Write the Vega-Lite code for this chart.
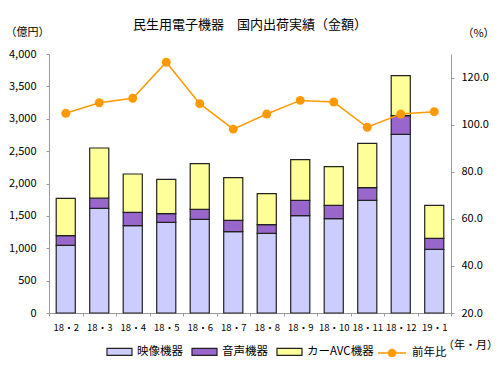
{
  "$schema": "https://vega.github.io/schema/vega-lite/v6.json",
  "autosize": {"type": "none"},
  "width": 402,
  "height": 259,
  "padding": {"left": 49, "top": 54, "right": 52, "bottom": 58},
  "background": "white",
  "title": {
    "text": "民生用電子機器　国内出荷実績（金額）",
    "font": "Noto Sans CJK JP",
    "fontSize": 13,
    "fontWeight": "normal",
    "color": "#000",
    "anchor": "middle",
    "frame": "group",
    "offset": -6
  },
  "config": {
    "font": "Noto Sans CJK JP",
    "view": {"stroke": null},
    "axis": {"grid": false, "domainColor": "#999", "tickColor": "#999", "labelColor": "#000", "titleColor": "#000", "labelFont": "Noto Sans CJK JP", "titleFont": "Noto Sans CJK JP", "titleFontWeight": "normal"}
  },
  "datasets": {
    "bars": [
      {"month": "18・2", "series": "映像機器", "k": 1, "value": 1045},
      {"month": "18・2", "series": "音声機器", "k": 2, "value": 150},
      {"month": "18・2", "series": "カーAVC機器", "k": 3, "value": 575},
      {"month": "18・3", "series": "映像機器", "k": 1, "value": 1617},
      {"month": "18・3", "series": "音声機器", "k": 2, "value": 159},
      {"month": "18・3", "series": "カーAVC機器", "k": 3, "value": 772},
      {"month": "18・4", "series": "映像機器", "k": 1, "value": 1349},
      {"month": "18・4", "series": "音声機器", "k": 2, "value": 206},
      {"month": "18・4", "series": "カーAVC機器", "k": 3, "value": 592},
      {"month": "18・5", "series": "映像機器", "k": 1, "value": 1400},
      {"month": "18・5", "series": "音声機器", "k": 2, "value": 134},
      {"month": "18・5", "series": "カーAVC機器", "k": 3, "value": 531},
      {"month": "18・6", "series": "映像機器", "k": 1, "value": 1447},
      {"month": "18・6", "series": "音声機器", "k": 2, "value": 154},
      {"month": "18・6", "series": "カーAVC機器", "k": 3, "value": 705},
      {"month": "18・7", "series": "映像機器", "k": 1, "value": 1256},
      {"month": "18・7", "series": "音声機器", "k": 2, "value": 175},
      {"month": "18・7", "series": "カーAVC機器", "k": 3, "value": 659},
      {"month": "18・8", "series": "映像機器", "k": 1, "value": 1230},
      {"month": "18・8", "series": "音声機器", "k": 2, "value": 134},
      {"month": "18・8", "series": "カーAVC機器", "k": 3, "value": 479},
      {"month": "18・9", "series": "映像機器", "k": 1, "value": 1503},
      {"month": "18・9", "series": "音声機器", "k": 2, "value": 237},
      {"month": "18・9", "series": "カーAVC機器", "k": 3, "value": 628},
      {"month": "18・10", "series": "映像機器", "k": 1, "value": 1457},
      {"month": "18・10", "series": "音声機器", "k": 2, "value": 206},
      {"month": "18・10", "series": "カーAVC機器", "k": 3, "value": 597},
      {"month": "18・11", "series": "映像機器", "k": 1, "value": 1740},
      {"month": "18・11", "series": "音声機器", "k": 2, "value": 196},
      {"month": "18・11", "series": "カーAVC機器", "k": 3, "value": 685},
      {"month": "18・12", "series": "映像機器", "k": 1, "value": 2760},
      {"month": "18・12", "series": "音声機器", "k": 2, "value": 287},
      {"month": "18・12", "series": "カーAVC機器", "k": 3, "value": 618},
      {"month": "19・1", "series": "映像機器", "k": 1, "value": 983},
      {"month": "19・1", "series": "音声機器", "k": 2, "value": 170},
      {"month": "19・1", "series": "カーAVC機器", "k": 3, "value": 510}
    ],
    "yoy": [
      {"month": "18・2", "name": "前年比", "ratio": 104.8},
      {"month": "18・3", "name": "前年比", "ratio": 109.3},
      {"month": "18・4", "name": "前年比", "ratio": 111.2},
      {"month": "18・5", "name": "前年比", "ratio": 126.5},
      {"month": "18・6", "name": "前年比", "ratio": 108.9},
      {"month": "18・7", "name": "前年比", "ratio": 98.1},
      {"month": "18・8", "name": "前年比", "ratio": 104.5},
      {"month": "18・9", "name": "前年比", "ratio": 110.3},
      {"month": "18・10", "name": "前年比", "ratio": 109.6},
      {"month": "18・11", "name": "前年比", "ratio": 98.9},
      {"month": "18・12", "name": "前年比", "ratio": 104.5},
      {"month": "19・1", "name": "前年比", "ratio": 105.5}
    ]
  },
  "encoding": {
    "x": {
      "field": "month",
      "type": "nominal",
      "sort": null,
      "scale": {"paddingInner": 0, "paddingOuter": 0},
      "axis": {
        "title": "（年・月）",
        "titleX": 421,
        "titleY": 32,
        "titleAlign": "center",
        "titleBaseline": "middle",
        "titleFontSize": 11,
        "labelAngle": 0,
        "labelFontSize": 9.5,
        "labelPadding": 6,
        "tickBand": "extent",
        "tickSize": 3
      }
    }
  },
  "layer": [
    {
      "data": {"name": "bars"},
      "mark": {"type": "bar", "width": {"band": 0.57}, "stroke": "#222", "strokeWidth": 1.2},
      "encoding": {
        "y": {
          "field": "value",
          "type": "quantitative",
          "stack": "zero",
          "scale": {"domain": [0, 4000]},
          "axis": {
            "orient": "left",
            "values": [0, 500, 1000, 1500, 2000, 2500, 3000, 3500, 4000],
            "format": ",d",
            "title": "（億円）",
            "titleAngle": 0,
            "titleX": -22,
            "titleY": -22,
            "titleAlign": "center",
            "titleBaseline": "middle",
            "titleFontSize": 11,
            "labelFontSize": 11,
            "tickSize": 3,
            "labelPadding": 10
          }
        },
        "color": {
          "field": "series",
          "type": "nominal",
          "scale": {"domain": ["映像機器", "音声機器", "カーAVC機器"], "range": ["#CCCCFF", "#9966CC", "#FFFF99"]},
          "legend": {
            "title": null,
            "orient": "none",
            "direction": "horizontal",
            "legendX": 57,
            "legendY": 284,
            "symbolType": "M-1,-0.28H1V0.28H-1Z",
            "symbolSize": 625,
            "symbolStrokeColor": "#222",
            "symbolStrokeWidth": 1.2,
            "labelFontSize": 11.5,
            "labelColor": "#000",
            "labelOffset": 4,
            "columnPadding": 6
          }
        },
        "order": {"field": "k", "type": "quantitative"}
      }
    },
    {
      "data": {"name": "yoy"},
      "mark": {"type": "line", "strokeWidth": 1.5, "point": {"filled": true, "size": 80}},
      "encoding": {
        "y": {
          "field": "ratio",
          "type": "quantitative",
          "scale": {"domain": [20, 130]},
          "axis": {
            "orient": "right",
            "values": [20, 40, 60, 80, 100, 120],
            "format": ".1f",
            "title": "（%）",
            "titleAngle": 0,
            "titleX": 27,
            "titleY": -21,
            "titleAlign": "center",
            "titleBaseline": "middle",
            "titleFontSize": 11,
            "labelFontSize": 11,
            "tickSize": 3,
            "labelPadding": 7
          }
        },
        "color": {
          "field": "name",
          "type": "nominal",
          "scale": {"domain": ["前年比"], "range": ["#FF9900"]},
          "legend": {
            "title": null,
            "orient": "none",
            "direction": "horizontal",
            "legendX": 328,
            "legendY": 284,
            "symbolType": "M-1,0H1M-0.25,0A0.25,0.25 0 1,0 0.25,0A0.25,0.25 0 1,0 -0.25,0",
            "symbolSize": 784,
            "symbolStrokeColor": "#FF9900",
            "symbolFillColor": "#FF9900",
            "symbolStrokeWidth": 1.5,
            "labelFontSize": 11.5,
            "labelColor": "#000",
            "labelOffset": 5
          }
        }
      }
    }
  ],
  "resolve": {"scale": {"y": "independent", "color": "independent"}, "legend": {"color": "independent"}}
}
